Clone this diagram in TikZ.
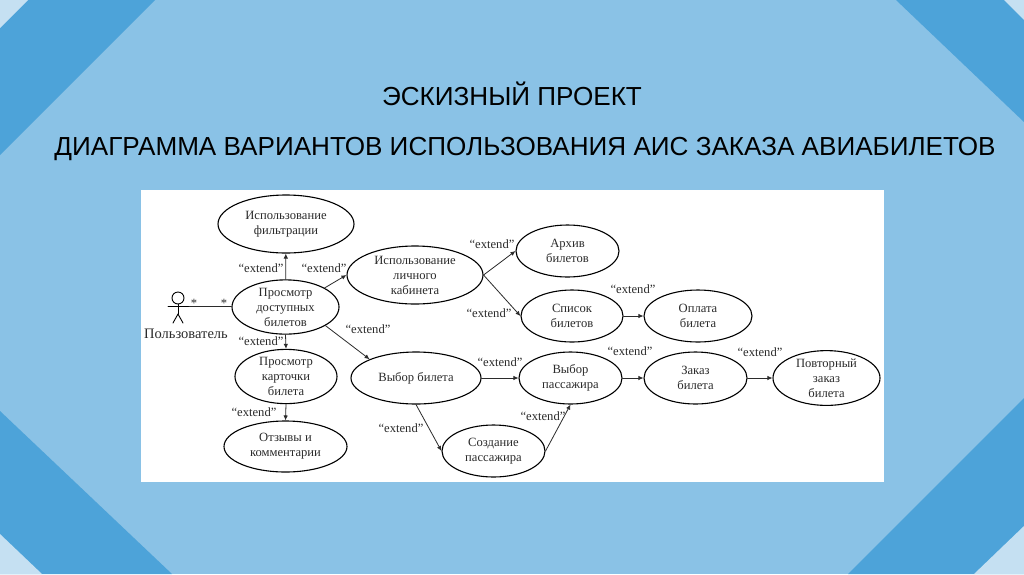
\documentclass[tikz,border=0pt]{standalone}
\usepackage{fontspec}
\setmainfont{Liberation Serif}
\newfontfamily\titlefont{Liberation Sans}
\usepackage{xcolor}
\usetikzlibrary{arrows.meta,shapes.geometric}
\definecolor{bgmid}{HTML}{8AC2E6}
\definecolor{bgdark}{HTML}{4DA3D9}
\definecolor{bglight}{HTML}{C5E0F2}
\definecolor{inkc}{HTML}{2B2B2B}
\tikzset{
  uc/.style 2 args={ellipse, draw=black, line width=1.1pt, inner sep=0pt, minimum width=#1, minimum height=#2, align=center, font=\fontsize{12.6}{15}\selectfont, text=inkc},
  ext/.style={inner sep=0pt, font=\fontsize{12.6}{14}\selectfont, text=inkc},
  conn/.style={draw=inkc, line width=0.8pt, -{Latex[length=5pt,width=4.5pt]}},
  ttl/.style={inner sep=0pt, anchor=base, font=\titlefont\fontsize{26.1}{30}\selectfont, text=black},
  every picture/.style={line cap=round, line join=round}
}

\begin{document}
\begin{tikzpicture}[x=1pt,y=-1pt]
    \useasboundingbox (0,0) rectangle (1024,574);
    \fill[bgmid] (0,0) rectangle (1024,574);

    \fill[bgdark] (0,0) -- (155,0) -- (0,155) -- cycle;
    \fill[bglight] (0,0) -- (28,0) -- (0,28) -- cycle;
    \fill[bgdark] (1024,0) -- (896,0) -- (1024,122) -- cycle;
    \fill[bglight] (1024,0) -- (1004,0) -- (1024,20) -- cycle;
    \fill[bgdark] (0,574) -- (172,574) -- (0,411) -- cycle;
    \fill[bglight] (0,574) -- (42,574) -- (0,534) -- cycle;
    \fill[bgdark] (1024,574) -- (848,574) -- (1024,398) -- cycle;
    \fill[bglight] (1024,574) -- (974,574) -- (1024,526) -- cycle;

    \fill[white] (141,190) rectangle (884,482);

    \node[ttl] (title1) at (512,105) {ЭСКИЗНЫЙ ПРОЕКТ};
    \node[ttl] (title2) at (525,155) {ДИАГРАММА ВАРИАНТОВ ИСПОЛЬЗОВАНИЯ АИС ЗАКАЗА АВИАБИЛЕТОВ};

    \node[uc={136pt}{58pt}] (filter) at (286,224) {Использование\\фильтрации};
    \node[uc={107pt}{50pt}] (view) at (285.5,307) {Просмотр\\доступных\\билетов};
    \node[uc={136pt}{58pt}] (cabinet) at (415,275) {Использование\\личного\\кабинета};
    \node[uc={102pt}{51pt}] (card) at (286,376.5) {Просмотр\\карточки\\билета};
    \node[uc={123pt}{51pt}] (reviews) at (285.5,446.5) {Отзывы и\\комментарии};
    \node[uc={130pt}{52pt}] (choice) at (416,378) {Выбор билета};
    \node[uc={103pt}{52pt}] (create) at (493.5,451) {Создание\\пассажира};
    \node[uc={103pt}{52pt}] (archive) at (567.5,251) {Архив\\билетов};
    \node[uc={102pt}{52pt}] (list) at (572,316) {Список\\билетов};
    \node[uc={108pt}{52pt}] (pay) at (698,316) {Оплата\\билета};
    \node[uc={103pt}{52pt}] (passenger) at (570.5,378) {Выбор\\пассажира};
    \node[uc={103pt}{52pt}] (order) at (695.5,378) {Заказ\\билета};
    \node[uc={107pt}{52pt}] (repeat) at (826.5,378) {Повторный\\заказ\\билета};

    \coordinate (head) at (178,298);
    \coordinate (hip) at (178,314);
    \coordinate (armL) at (168,306);
    \coordinate (armR) at (189,306);
    \coordinate (legL) at (173,323);
    \coordinate (legR) at (183,323);
    \draw[line width=0.9pt] (head) circle (6pt);
    \draw[line width=0.9pt] (178,304) -- (hip);
    \draw[line width=0.9pt] (armL) -- (armR);
    \draw[line width=0.9pt] (legL) -- (hip) -- (legR);
    \node[inner sep=0pt, text=inkc, font=\fontsize{14.5}{16}\selectfont] (user) at (186,334) {Пользователь};
    \node[ext] (star1) at (194,303) {*};
    \node[ext] (star2) at (224,303) {*};
    \draw[draw=inkc, line width=0.8pt] (armR) -- (view.west |- armR);

    \draw[conn] (view) -- (filter);
    \draw[conn] (view.26) -- (cabinet.west);
    \draw[conn] (view.south) -- (card.north);
    \draw[conn] (card.south) -- (reviews.north);
    \draw[conn] (view.-25) -- (choice.158);
    \draw[conn] (cabinet.east) -- (archive.west);
    \draw[conn] (cabinet.east) -- (list.west);
    \draw[conn] (list) -- (pay);
    \draw[conn] (choice) -- (passenger);
    \draw[conn] (passenger) -- (order);
    \draw[conn] (order) -- (repeat);
    \draw[conn] (choice.south) -- (create.west);
    \draw[conn] (create.east) -- (passenger.south);

    \node[ext] (e1) at (261,268) {“extend”};
    \node[ext] (e2) at (324,268) {“extend”};
    \node[ext] (e3) at (492,244) {“extend”};
    \node[ext] (e4) at (489,313) {“extend”};
    \node[ext] (e5) at (261,341) {“extend”};
    \node[ext] (e6) at (368,329) {“extend”};
    \node[ext] (e7) at (254,412) {“extend”};
    \node[ext] (e8) at (401,428) {“extend”};
    \node[ext] (e9) at (500,362) {“extend”};
    \node[ext] (e10) at (633,289) {“extend”};
    \node[ext] (e11) at (630,351) {“extend”};
    \node[ext] (e12) at (760,352) {“extend”};
    \node[ext] (e13) at (543,416) {“extend”};
  \end{tikzpicture}
\end{document}
